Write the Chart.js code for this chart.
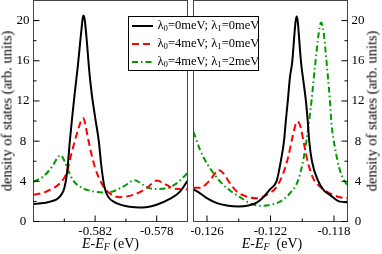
<!DOCTYPE html>
<html>
<head>
<meta charset="utf-8">
<script src="https://cdn.jsdelivr.net/npm/chart.js@4.4.1/dist/chart.umd.min.js"></script>
<style>
body { margin: 0; background: #fff; }
#wrap { position: relative; width: 382px; height: 254px; overflow: hidden; background: #fff;
        font-family: 'Liberation Serif', 'DejaVu Serif', serif; color: #000; }
canvas { position: absolute; top: 0; }
.ytitle { position: absolute; top: 111px; font-size: 14.5px; white-space: nowrap;
          transform: translate(-50%, -50%) rotate(-90deg); }
.xtitle { position: absolute; top: 244px; font-size: 14px; white-space: nowrap;
          transform: translate(-50%, -50%); }
sub { font-size: 70%; vertical-align: -0.25em; line-height: 0; }
#legend { position: absolute; left: 127.5px; top: 15.5px; width: 131.5px; height: 55px;
          box-sizing: border-box; border: 1px solid #000; background: #fff; z-index: 5; }
#legend .row { position: absolute; left: 3px; height: 16px; display: flex; align-items: center;
               font-size: 12.5px; white-space: nowrap; }
#legend svg { margin-right: 5px; }
</style>
</head>
<body>
<div id="wrap">
  <canvas id="leftChart" width="190" height="254" style="left:0"></canvas>
  <canvas id="rightChart" width="191" height="254" style="left:191px"></canvas>
  <div class="ytitle" style="left:7px">density of states (arb. units)</div>
  <div class="ytitle" style="left:372px">density of states (arb. units)</div>
  <div class="xtitle" style="left:110.5px"><i>E</i>-<i>E</i><sub><i>F</i></sub> (eV)</div>
  <div class="xtitle" style="left:272px"><i>E</i>-<i>E</i><sub><i>F</i></sub>&nbsp; (eV)</div>
  <div id="legend">
    <div class="row" style="top:1px">
      <svg width="21" height="4"><line x1="0" y1="2" x2="21" y2="2" stroke="#000" stroke-width="2"/></svg>
      <span>λ<sub>0</sub>=0meV; λ<sub>1</sub>=0meV</span>
    </div>
    <div class="row" style="top:19px">
      <svg width="21" height="4"><line x1="0" y1="2" x2="21" y2="2" stroke="#ff0000" stroke-width="2" stroke-dasharray="7 4"/></svg>
      <span>λ<sub>0</sub>=4meV; λ<sub>1</sub>=0meV</span>
    </div>
    <div class="row" style="top:37px">
      <svg width="21" height="4"><line x1="0" y1="2" x2="21" y2="2" stroke="#009a00" stroke-width="2" stroke-dasharray="6 3 1.5 3"/></svg>
      <span>λ<sub>0</sub>=4meV; λ<sub>1</sub>=2meV</span>
    </div>
  </div>
</div>
<script>
// ticks
const yMajor = [0, 4, 8, 12, 16, 20];
const yMinor = [2, 6, 10, 14, 18];
const xMajorLeft = [-0.582, -0.578];
const xMinorLeft = [-0.584, -0.580];
const xMajorRight = [-0.126, -0.122, -0.118];
const xMinorRight = [-0.124, -0.120];

// left panel (E-EF in eV, DOS in arb. units)
const leftBlackE = [-0.586, -0.5855, -0.585, -0.5845, -0.58423, -0.584, -0.58381, -0.58364, -0.58348, -0.58332,
    -0.58312, -0.58296, -0.58284, -0.5828, -0.58275, -0.5827, -0.58265, -0.58254, -0.58238, -0.58221, -0.58199, -0.58176,
    -0.5816, -0.5814, -0.58117, -0.58061, -0.57975, -0.5789, -0.57801, -0.57715, -0.5765, -0.576];
const leftBlackDos = [1.75, 1.82, 1.95, 2.2, 2.6, 3.3, 5.0, 8.0, 10.5, 12.8,
    15.5, 18.0, 19.8, 20.3, 20.5, 20.3, 19.8, 18.0, 15.0, 12.6, 10.3, 8.0,
    5.6, 3.5, 2.5, 1.83, 1.46, 1.39, 1.66, 2.25, 2.95, 4.04];

const leftRedE = [-0.586, -0.58538, -0.58494, -0.58429, -0.58386, -0.58353, -0.58321, -0.58293, -0.58285, -0.58278, -0.5827, -0.5826,
    -0.58234, -0.58202, -0.58158, -0.58105, -0.5804, -0.57953, -0.57866, -0.57801, -0.57736, -0.57693, -0.576];
const leftRedDos = [2.65, 2.85, 3.14, 3.8, 4.8, 6.8, 8.6, 9.95, 10.2, 10.3, 10.1, 9.4,
    7.4, 5.45, 3.8, 2.8, 2.42, 2.65, 3.3, 4.07, 3.64, 3.3, 3.2];

const leftGreenE = [-0.586, -0.58538, -0.58473, -0.58442, -0.58423, -0.58397, -0.58375, -0.58343, -0.58278, -0.58213,
    -0.58148, -0.58083, -0.58018, -0.57942, -0.57888, -0.57823, -0.57736, -0.57671, -0.576];
const leftGreenDos = [3.97, 4.46, 5.6, 6.4, 6.6, 5.95, 5.1, 4.1, 3.3, 3.0,
    2.88, 3.0, 3.47, 4.1, 3.64, 3.24, 3.3, 3.8, 4.8];

// right panel
const rightBlackE = [-0.12685, -0.12643, -0.12601, -0.12538, -0.12475, -0.12402, -0.12339, -0.12287, -0.12245, -0.12203,
    -0.12161, -0.12134, -0.12115, -0.12103, -0.12091, -0.12078, -0.12063, -0.12049, -0.12042, -0.12035, -0.12028, -0.12022,
    -0.12008, -0.11993, -0.11977, -0.11966, -0.11956, -0.11939, -0.119, -0.11864, -0.11826, -0.11763, -0.11715];
const rightBlackDos = [3.2, 2.8, 2.32, 1.83, 1.59, 1.49, 1.59, 1.89, 2.42, 3.2,
    4.04, 6.1, 8.0, 10.1, 12.0, 14.3, 15.9, 18.7, 19.9, 20.4, 19.9, 18.7,
    15.9, 14.0, 12.0, 10.1, 8.0, 6.0, 4.04, 3.1, 2.65, 1.98, 1.92];

const rightRedE = [-0.12685, -0.12643, -0.12622, -0.1258, -0.12549, -0.12528, -0.12497, -0.12455, -0.12412, -0.1235,
    -0.12287, -0.12224, -0.12161, -0.1212, -0.12088, -0.12061, -0.1204, -0.12032, -0.12022, -0.1201, -0.1199,
    -0.11963, -0.11931, -0.11889, -0.11826, -0.11763, -0.11715];
const rightRedDos = [3.35, 3.35, 3.5, 4.14, 4.8, 5.13, 4.8, 3.8, 2.98, 2.48,
    2.32, 2.65, 3.47, 4.8, 6.45, 8.43, 9.76, 9.95, 9.85, 9.4, 7.8,
    5.8, 4.3, 3.47, 2.8, 2.42, 2.32];

const rightGreenE = [-0.12685, -0.12643, -0.12601, -0.12559, -0.12517, -0.12455, -0.12392, -0.12329, -0.12266, -0.12203,
    -0.1214, -0.12078, -0.12025, -0.11994, -0.11973, -0.11956, -0.11941, -0.1192, -0.119, -0.11891, -0.11882,
    -0.11873, -0.11864, -0.11847, -0.11826, -0.11816, -0.11795, -0.11763, -0.11732, -0.11715];
const rightGreenDos = [8.93, 7.1, 5.8, 4.8, 3.97, 3.08, 2.42, 1.83, 1.56, 1.66,
    1.98, 2.8, 4.14, 6.1, 8.1, 10.1, 12.1, 15.4, 18.3, 19.3, 19.8,
    19.5, 18.7, 15.9, 12.1, 9.76, 7.44, 5.13, 3.97, 3.64];

const serif = "'Liberation Serif', 'DejaVu Serif', serif";

function pts(xs, ys) {
    return xs.map((x, i) => ({x: x, y: ys[i]}));
}

function series(xs, ys, color, dash) {
    return {
        data: pts(xs, ys),
        borderColor: color,
        borderWidth: 2,
        borderDash: dash,
        pointRadius: 0,
        fill: false,
        cubicInterpolationMode: 'monotone'
    };
}

// frame round the plot area plus inward ticks (xmgrace style)
const frameTicks = {
    id: 'frameTicks',
    afterDatasetsDraw(chart, args, o) {
        const {ctx, chartArea: a} = chart;
        const xs = chart.scales.x, ys = chart.scales.y;
        ctx.save();
        ctx.lineWidth = 1;
        ctx.strokeStyle = '#444';
        ctx.strokeRect(a.left, a.top, a.right - a.left, a.bottom - a.top);
        ctx.strokeStyle = '#000';
        ctx.beginPath();
        const seg = (x1, y1, x2, y2) => { ctx.moveTo(x1, y1); ctx.lineTo(x2, y2); };
        o.xMajor.forEach(v => { const p = xs.getPixelForValue(v); seg(p, a.bottom, p, a.bottom - 6); });
        o.xMinor.forEach(v => { const p = xs.getPixelForValue(v); seg(p, a.bottom, p, a.bottom - 3); });
        const edge = o.side === 'right' ? a.right : a.left;
        const dir = o.side === 'right' ? -1 : 1;
        yMajor.forEach(v => { const p = ys.getPixelForValue(v); seg(edge, p, edge + 6 * dir, p); });
        yMinor.forEach(v => { const p = ys.getPixelForValue(v); seg(edge, p, edge + 3 * dir, p); });
        ctx.stroke();
        ctx.restore();
    }
};

function makePanel(id, sets, xMin, xMax, xMajor, side, pad, yWidth) {
    new Chart(document.getElementById(id), {
        type: 'line',
        data: {datasets: sets},
        plugins: [frameTicks],
        options: {
            responsive: false,
            animation: false,
            events: [],
            layout: {padding: pad},
            plugins: {
                legend: {display: false},
                tooltip: {enabled: false},
                frameTicks: {xMajor: xMajor, xMinor: side === 'right' ? xMinorRight : xMinorLeft, side: side}
            },
            scales: {
                x: {
                    type: 'linear',
                    min: xMin,
                    max: xMax,
                    grid: {display: false, drawTicks: false},
                    border: {display: false},
                    afterBuildTicks: s => { s.ticks = xMajor.map(v => ({value: v})); },
                    afterFit: s => { s.height = 32.5; s.paddingLeft = 0; s.paddingRight = 0; },
                    ticks: {
                        autoSkip: false,
                        maxRotation: 0,
                        padding: 2,
                        color: '#000',
                        font: {family: serif, size: 13},
                        callback: v => v.toFixed(3)
                    }
                },
                y: {
                    position: side,
                    min: 0,
                    max: 22,
                    grid: {display: false, drawTicks: false},
                    border: {display: false},
                    afterBuildTicks: s => { s.ticks = yMajor.map(v => ({value: v})); },
                    afterFit: s => { s.width = yWidth; s.paddingTop = 0; s.paddingBottom = 0; },
                    ticks: {
                        autoSkip: false,
                        padding: 4,
                        crossAlign: 'center',
                        color: '#000',
                        font: {family: serif, size: 13},
                        callback: v => String(v)
                    }
                }
            }
        }
    });
}

makePanel('leftChart', [
    series(leftBlackE, leftBlackDos, '#000000', []),
    series(leftRedE, leftRedDos, '#ff0000', [7, 4]),
    series(leftGreenE, leftGreenDos, '#009a00', [6, 3, 1.5, 3])
], -0.586, -0.576, xMajorLeft, 'left', {top: 0.5, right: 2.5, left: 0, bottom: 0}, 33.5);

makePanel('rightChart', [
    series(rightBlackE, rightBlackDos, '#000000', []),
    series(rightRedE, rightRedDos, '#ff0000', [7, 4]),
    series(rightGreenE, rightGreenDos, '#009a00', [6, 3, 1.5, 3])
], -0.12685, -0.11715, xMajorRight, 'right', {top: 0.5, right: 0, left: 2.5, bottom: 0}, 34.5);
</script>
</body>
</html>
